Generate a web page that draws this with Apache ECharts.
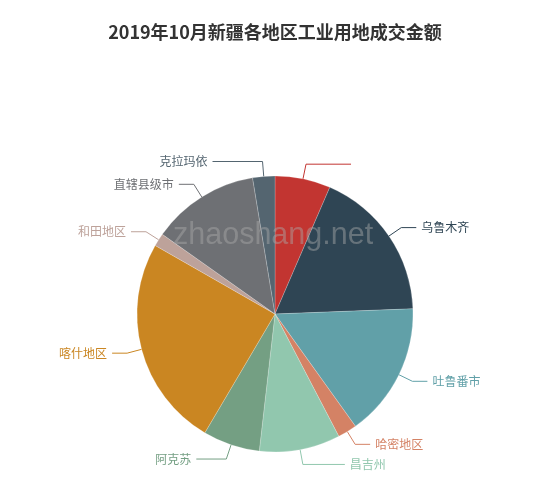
<!DOCTYPE html>
<html>
<head>
<meta charset="utf-8">
<script src="https://cdn.jsdelivr.net/npm/echarts@6/dist/echarts.min.js"></script>
<style>
  html, body { margin: 0; padding: 0; background: #fff; }
  #main { width: 550px; height: 490px; }
</style>
</head>
<body>
<div id="main"></div>
<script>
(function () {

    var titleText = '2019年10月新疆各地区工业用地成交金额';

    // slice names, clockwise from 12 o'clock (first one shows no label text)
    var regions = ['', '乌鲁木齐', '吐鲁番市', '哈密地区', '昌吉州', '阿克苏', '喀什地区', '和田地区', '直辖县级市', '克拉玛依'];
    var amounts = [6500, 17900, 15700, 2250, 9470, 6670, 24780, 1530, 12600, 2600];

    var palette = ['#c23531', '#2f4554', '#61a0a8', '#d48265', '#91c7ae', '#749f83', '#ca8622', '#bda29a', '#6e7074', '#546570', '#c4ccd3'];

    // second label line segment, longer for the near-vertical slices
    var lineLen2 = [45, 15, 15, 15, 42, 30, 15, 15, 15, 50];

    var pieData = [];
    for (var i = 0; i < regions.length; i++) {
        pieData.push({
            name: regions[i],
            value: amounts[i],
            labelLine: { length2: lineLen2[i] }
        });
    }

    var myChart = echarts.init(document.getElementById('main'));

    var option = {
        color: palette,
        animation: false,
        title: {
            text: titleText,
            left: 'center',
            top: 18,
            textStyle: {
                fontSize: 18,
                fontWeight: 'bold',
                color: '#333',
                fontFamily: 'Noto Sans CJK SC'
            }
        },
        graphic: [{
            type: 'text',
            left: 173,
            top: 220,
            z: 100,
            style: {
                text: 'zhaoshang.net',
                fontSize: 30.5,
                fontFamily: 'Liberation Sans',
                fill: 'rgba(170,170,170,0.45)'
            }
        }],
        series: [
            {
                name: '成交金额',
                type: 'pie',
                center: ['50%', 314],
                radius: 138,
                startAngle: 90,
                label: {
                    color: 'inherit',
                    fontSize: 12,
                    fontFamily: 'Noto Sans CJK SC'
                },
                labelLine: {
                    length: 15,
                    length2: 15
                },
                itemStyle: {
                    borderColor: 'rgba(255,255,255,0.4)',
                    borderWidth: 0.5
                },
                data: pieData
            }
        ]
    };

    myChart.setOption(option);

}());
</script>
</body>
</html>
